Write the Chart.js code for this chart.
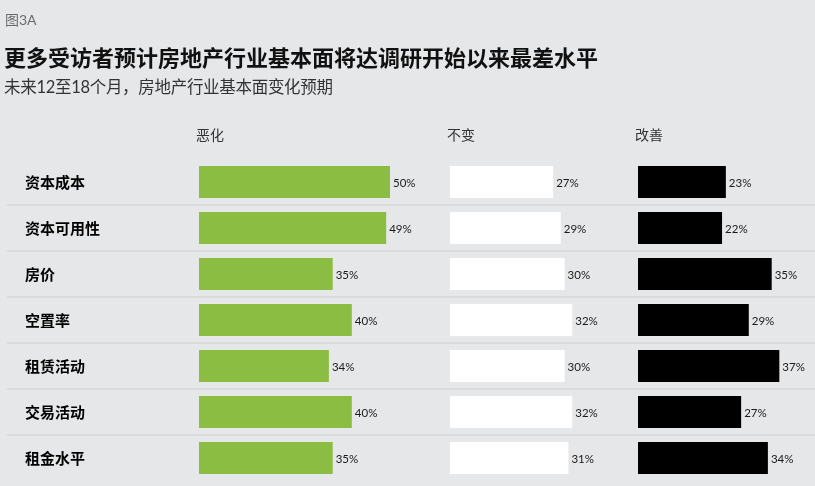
<!DOCTYPE html>
<html>
<head>
<meta charset="utf-8">
<script src="https://cdn.jsdelivr.net/npm/chart.js@4.4.1/dist/chart.umd.min.js"></script>
<style>
  html, body { margin:0; padding:0; background:#e6e7e9; }
  body { width:815px; height:486px; position:relative; overflow:hidden;
         font-family: Lato, "Noto Sans CJK SC", sans-serif; }
  #wrap { position:absolute; left:0; top:0; width:815px; height:486px; }
  .t { position:absolute; white-space:nowrap; }
  #fig { left:5px; top:9px; font-size:14px; color:#6b6b6b; }
  #title { left:4px; top:40px; font-size:22px; font-weight:bold; color:#111; letter-spacing:0px; }
  #sub { left:4px; top:74px; font-size:16.5px; color:#333; letter-spacing:-0.3px; }
</style>
</head>
<body>
<div id="wrap"><canvas id="c" width="815" height="486"></canvas></div>
<div class="t" id="fig">图3A</div>
<div class="t" id="title">更多受访者预计房地产行业基本面将达调研开始以来最差水平</div>
<div class="t" id="sub">未来12至18个月，房地产行业基本面变化预期</div>
<script>
const categories = ['资本成本', '资本可用性', '房价', '空置率', '租赁活动', '交易活动', '租金水平'];
const seriesNames = ['恶化', '不变', '改善'];
const worsen   = [50, 49, 35, 40, 34, 40, 35];
const unchanged = [27, 29, 30, 32, 30, 32, 31];
const improve  = [23, 22, 35, 29, 37, 27, 34];

// layout (pixels)
const plotLeft = 199, plotRight = 815;
const panelStart = [199, 450, 638];
const pxPerPct = 3.82;
const plotWidthPct = (plotRight - plotLeft) / pxPerPct;
function axisRange(i) {
  const mn = -(panelStart[i] - plotLeft) / pxPerPct;
  return { min: mn, max: mn + plotWidthPct };
}

const colors = ['#8abd41', '#ffffff', '#000000'];
const values = [worsen, unchanged, improve];

const datasets = values.map((v, i) => ({
  label: seriesNames[i],
  data: v,
  backgroundColor: colors[i],
  borderWidth: 0,
  xAxisID: 'x' + i,
  grouped: false,
  barPercentage: 32 / 46,
  categoryPercentage: 1
}));

const decor = {
  id: 'decor',
  beforeDatasetsDraw(chart) {
    const ctx = chart.ctx, y = chart.scales.y;
    ctx.save();
    ctx.strokeStyle = '#d9dadd';
    ctx.lineWidth = 2;
    for (let i = 1; i < categories.length; i++) {
      const yy = (y.getPixelForValue(i - 1) + y.getPixelForValue(i)) / 2;
      ctx.beginPath();
      ctx.moveTo(7, yy);
      ctx.lineTo(chart.width, yy);
      ctx.stroke();
    }
    // panel headers
    ctx.fillStyle = '#333';
    ctx.font = '14px "Noto Sans CJK SC", sans-serif';
    ctx.textBaseline = 'middle';
    ctx.textAlign = 'left';
    chart.data.datasets.forEach((ds, i) => {
      const x0 = chart.scales['x' + i].getPixelForValue(0);
      ctx.fillText(ds.label, x0 - 3, 135);
    });
    ctx.restore();
  },
  afterDatasetsDraw(chart) {
    const ctx = chart.ctx;
    ctx.save();
    ctx.fillStyle = '#1a1a1a';
    ctx.font = '11.5px Lato, "Noto Sans", sans-serif';
    ctx.textBaseline = 'middle';
    ctx.textAlign = 'left';
    chart.data.datasets.forEach((ds, i) => {
      chart.getDatasetMeta(i).data.forEach((bar, j) => {
        ctx.fillText(ds.data[j] + '%', bar.x + 3, bar.y + 1);
      });
    });
    ctx.restore();
  }
};

const scales = {
  y: {
    type: 'category',
    position: 'left',
    grid: { display: false },
    border: { display: false },
    ticks: {
      crossAlign: 'far',
      color: '#000',
      font: { family: '"Noto Sans CJK SC", sans-serif', size: 15, weight: 'bold' }
    },
    afterFit(s) { s.width = plotLeft - 25; s.paddingTop = 0; s.paddingBottom = 0; }
  }
};
for (let i = 0; i < 3; i++) {
  const r = axisRange(i);
  scales['x' + i] = { type: 'linear', display: false, min: r.min, max: r.max };
}

new Chart(document.getElementById('c'), {
  type: 'bar',
  data: { labels: categories, datasets },
  options: {
    indexAxis: 'y',
    responsive: false,
    animation: false,
    layout: { padding: { left: 25, right: 0, top: 159, bottom: 5 } },
    plugins: { legend: { display: false }, tooltip: { enabled: false } },
    scales
  },
  plugins: [decor]
});
</script>
</body>
</html>
